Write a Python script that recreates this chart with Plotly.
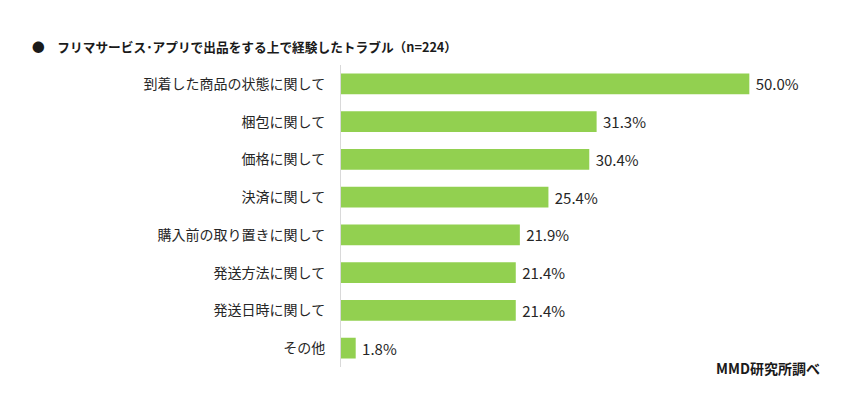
import plotly.graph_objects as go

categories = ["到着した商品の状態に関して", "梱包に関して", "価格に関して", "決済に関して",
              "購入前の取り置きに関して", "発送方法に関して", "発送日時に関して", "その他"]
values = [50.0, 31.3, 30.4, 25.4, 21.9, 21.4, 21.4, 1.8]

title = "●　フリマサービス･アプリで出品をする上で経験したトラブル（n=224）"
source = "MMD研究所調べ"

FONT = "Noto Sans CJK JP"

fig = go.Figure(go.Bar(
    x=values, y=categories, orientation="h",
    marker=dict(color="#92D050", line=dict(width=0)),
    text=[f"{v:.1f}%" for v in values], textposition="outside",
    texttemplate=" %{text}",
    textfont=dict(size=15, color="#262626", family=FONT),
    constraintext="none",
    cliponaxis=False,
))

L, R, T, B = 341, 19, 65, 53
pw = 850 - L - R
ph = 420 - T - B

def px2paper(px, py):
    return (px - L) / pw, 1 - (py - T) / ph

tx, ty = px2paper(30, 47)
sx, sy = px2paper(822, 368)

fig.update_layout(
    width=850, height=420,
    margin=dict(l=L, r=R, t=T, b=B),
    paper_bgcolor="white", plot_bgcolor="white",
    bargap=0.45,
    showlegend=False,
    font=dict(family=FONT, color="#262626"),
    xaxis=dict(range=[0, 60], visible=False, fixedrange=True),
    yaxis=dict(autorange="reversed", showline=True, linecolor="#d9d9d9", linewidth=1,
               showgrid=False, ticks="", ticklabelstandoff=12,
               tickfont=dict(size=14, color="#262626", family=FONT)),
    annotations=[
        dict(text=title, x=tx, y=ty, xref="paper", yref="paper", showarrow=False,
             xanchor="left", yanchor="middle",
             font=dict(size=12.7, color="#1a1a1a", family=FONT, weight="bold")),
        dict(text=source, x=sx, y=sy, xref="paper", yref="paper", showarrow=False,
             xanchor="right", yanchor="middle",
             font=dict(size=14, color="#1a1a1a", family=FONT, weight="bold")),
    ],
)

fig.write_html("out.html")
